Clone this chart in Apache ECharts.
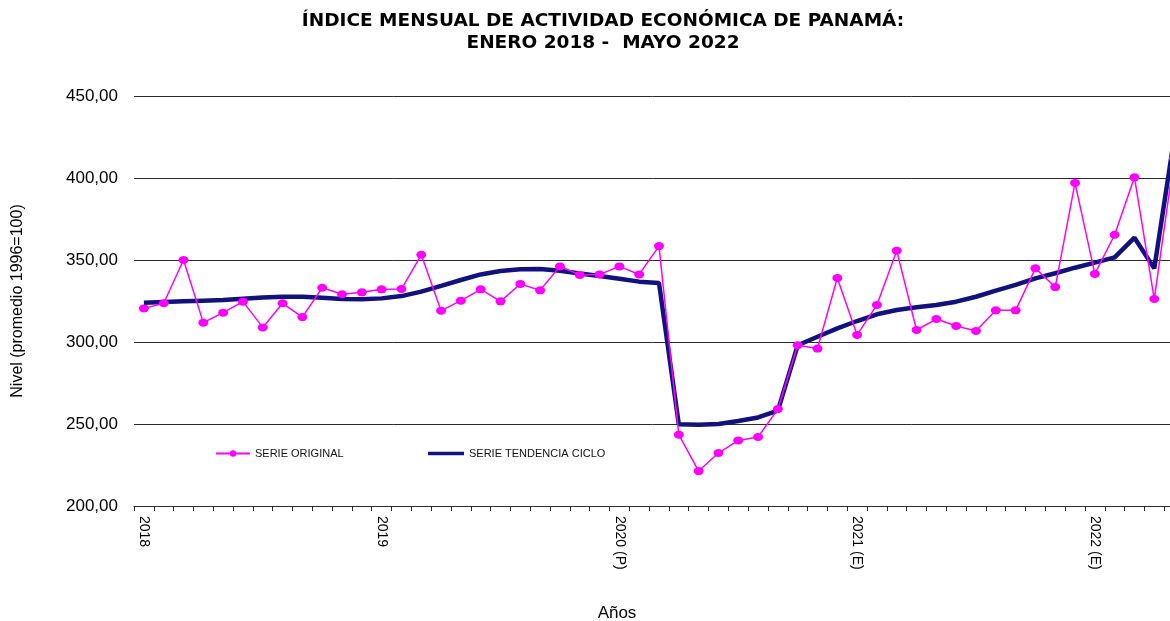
<!DOCTYPE html>
<html>
<head>
<meta charset="utf-8">
<script src="https://cdn.jsdelivr.net/npm/echarts@6/dist/echarts.min.js"></script>
<style>html,body{margin:0;padding:0;background:#fff;}#chart{width:1170px;height:621px;}</style>
</head>
<body>
<div id="chart"></div>
<script>
// Months Jan 2018 .. May 2022
const categories = [];
for (let y = 2018; y <= 2022; y++) {
  for (let m = 1; m <= 12; m++) {
    if (y === 2022 && m > 5) break;
    categories.push(y + '-' + (m < 10 ? '0' + m : m));
  }
}
const yearLabels = ['2018', '2019', '2020 (P)', '2021 (E)', '2022 (E)'];
const yTickValues = [200, 250, 300, 350, 400, 450];

const serieOriginal = [
  320.5, 323.6, 350.0, 311.8, 317.9, 324.6, 308.9, 323.6, 315.2, 333.1, 329.1, 330.3,
  332.1, 332.3, 353.2, 319.1, 325.2, 332.1, 324.8, 335.4, 331.5, 346.1, 340.9, 341.2,
  346.1, 341.2, 358.5, 243.5, 221.3, 232.3, 240.0, 242.1, 259.1, 298.0, 296.0, 339.0,
  304.3, 322.6, 355.7, 307.3, 314.0, 309.8, 306.7, 319.3, 319.3, 344.9, 333.5, 397.0,
  341.5, 365.4, 400.4, 326.2, 412.0
];
const serieTendencia = [
  324.0, 324.4, 324.8, 325.2, 325.6, 326.4, 327.2, 327.6, 327.6, 327.0, 326.2, 326.0,
  326.6, 328.0, 330.7, 334.2, 337.8, 341.2, 343.3, 344.3, 344.5, 343.5, 341.8, 340.2,
  338.6, 336.8, 336.0, 249.8, 249.5, 250.0, 251.8, 254.0, 258.1, 298.0, 303.2, 308.3,
  312.8, 316.9, 319.5, 321.2, 322.6, 324.6, 327.6, 331.3, 334.8, 338.8, 341.9, 345.3,
  348.4, 351.6, 363.6, 344.9, 424.0
];

const chart = echarts.init(document.getElementById('chart'), null, {renderer: 'canvas'});
const FONT = 'Liberation Sans, Arial, sans-serif';
chart.setOption({
  animation: false,
  backgroundColor: '#ffffff',
  title: [
    {
      text: 'ÍNDICE MENSUAL DE ACTIVIDAD ECONÓMICA DE PANAMÁ:\nENERO 2018 -  MAYO 2022',
      left: 603, top: 10, textAlign: 'center', padding: 0,
      textStyle: {fontFamily: 'DejaVu Sans, sans-serif', fontSize: 18.5, fontWeight: 'bold', color: '#000', lineHeight: 22}
    },
    {
      text: 'Años', left: 617, top: 605, textAlign: 'center', padding: 0,
      textStyle: {fontFamily: FONT, fontSize: 17, fontWeight: 'normal', color: '#000'}
    }
  ],
  legend: [
    {
      data: ['SERIE ORIGINAL'], left: 215, top: 448, padding: 0,
      itemWidth: 34, itemHeight: 8,
      textStyle: {fontFamily: FONT, fontSize: 11, color: '#111'}
    },
    {
      data: [{name: 'SERIE TENDENCIA CICLO', icon: 'rect'}], left: 428, top: 448, padding: 0,
      itemWidth: 36, itemHeight: 3.5,
      textStyle: {fontFamily: FONT, fontSize: 11, color: '#111'}
    }
  ],
  grid: {left: 134, top: 96, width: 1050, height: 410, containLabel: false, outerBoundsMode: 'none'},
  xAxis: {
    type: 'category',
    data: categories,
    boundaryGap: true,
    axisLine: {show: true, lineStyle: {color: '#2a2a2a', width: 1}},
    axisTick: {show: true, interval: 0, length: 5, lineStyle: {color: '#2a2a2a'}},
    axisLabel: {
      interval: function (idx) { return idx % 12 === 0; },
      formatter: function (v, idx) { return yearLabels[Math.floor(idx / 12)]; },
      rotate: -90, margin: 10,
      fontFamily: FONT, fontSize: 14, color: '#000'
    },
    splitLine: {show: false}
  },
  yAxis: {
    type: 'value',
    min: yTickValues[0], max: yTickValues[yTickValues.length - 1], interval: 50,
    name: 'Nivel (promedio 1996=100)',
    nameLocation: 'middle', nameRotate: 90, nameGap: 108,
    nameTextStyle: {fontFamily: FONT, fontSize: 16, color: '#000'},
    axisLine: {show: false},
    axisTick: {show: false},
    axisLabel: {
      margin: 16, fontFamily: FONT, fontSize: 17, color: '#000',
      formatter: function (v) { return v.toFixed(2).replace('.', ','); }
    },
    splitLine: {show: true, lineStyle: {color: '#2a2a2a', width: 1}}
  },
  series: [
    {
      name: 'SERIE TENDENCIA CICLO',
      type: 'line',
      data: serieTendencia,
      symbol: 'none',
      smooth: false,
      lineStyle: {color: '#12127e', width: 4.5},
      itemStyle: {color: '#12127e'},
      z: 2
    },
    {
      name: 'SERIE ORIGINAL',
      type: 'line',
      data: serieOriginal,
      symbol: 'circle',
      symbolSize: [10, 8],
      lineStyle: {color: '#ff00ff', width: 1.5},
      itemStyle: {color: '#ff00ff'},
      z: 3
    }
  ]
});
</script>
</body>
</html>
